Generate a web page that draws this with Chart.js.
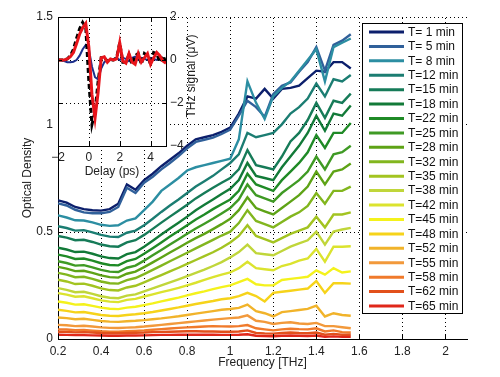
<!DOCTYPE html>
<html>
<head>
<meta charset="utf-8">
<script src="https://cdn.jsdelivr.net/npm/chart.js@4.4.1/dist/chart.umd.min.js"></script>
<style>
  body { margin: 0; background: #fff; }
  #wrap { position: relative; width: 500px; height: 377px; }
  #wrap canvas { position: absolute; left: 0; top: 0; }
</style>
</head>
<body>
<div id="wrap">
  <canvas id="mainChart" width="500" height="377"></canvas>
  <canvas id="insetChart" width="500" height="377"></canvas>
</div>
<script>
// frequency axis (THz)
const freq = [0.20,0.24,0.28,0.32,0.36,0.40,0.44,0.48,0.52,0.56,
              0.60,0.64,0.68,0.72,0.76,0.80,0.84,0.88,0.92,0.96,
              1.00,1.04,1.08,1.12,1.16,1.20,1.24,1.28,1.32,1.36,
              1.40,1.44,1.48,1.52,1.56];

const minutes = [1,5,8,12,15,18,22,25,28,32,35,38,42,45,48,52,55,58,62,65];

// optical density, one array per time
const odT1  = [0.646,0.635,0.615,0.605,0.600,0.598,0.605,0.630,0.720,0.695,0.740,0.770,0.805,0.835,0.865,0.900,0.930,0.940,0.950,0.965,0.985,1.050,1.130,1.120,1.165,1.120,1.165,1.170,1.180,1.215,1.250,1.245,1.290,1.290,1.260];
const odT5  = [0.632,0.622,0.602,0.590,0.586,0.586,0.592,0.615,0.705,0.680,0.728,0.756,0.790,0.820,0.852,0.888,0.918,0.928,0.938,0.955,0.975,1.040,1.110,1.080,1.035,1.140,1.180,1.195,1.245,1.290,1.360,1.250,1.370,1.390,1.420];
const odT8  = [0.576,0.566,0.553,0.552,0.543,0.532,0.527,0.530,0.552,0.562,0.600,0.640,0.690,0.720,0.750,0.785,0.800,0.810,0.820,0.830,0.840,0.930,1.200,1.100,1.025,1.130,1.170,1.200,1.250,1.300,1.350,1.200,1.360,1.380,1.400];
const odT12 = [0.525,0.517,0.505,0.507,0.497,0.485,0.477,0.475,0.495,0.505,0.530,0.560,0.592,0.622,0.650,0.680,0.710,0.735,0.760,0.790,0.820,0.860,0.960,0.940,0.950,0.960,1.000,1.050,1.080,1.120,1.190,1.130,1.210,1.200,1.230];
const odT15 = [0.480,0.472,0.460,0.462,0.452,0.440,0.432,0.430,0.450,0.460,0.485,0.513,0.542,0.570,0.597,0.625,0.655,0.680,0.705,0.728,0.750,0.790,0.880,0.810,0.800,0.790,0.850,0.920,0.960,1.020,1.100,1.030,1.110,1.100,1.143];
const odT18 = [0.425,0.417,0.405,0.407,0.397,0.385,0.377,0.375,0.395,0.405,0.430,0.458,0.487,0.515,0.542,0.570,0.600,0.625,0.650,0.675,0.700,0.740,0.820,0.760,0.750,0.740,0.800,0.850,0.900,0.960,1.040,0.970,1.050,1.040,1.088];
const odT22 = [0.393,0.385,0.373,0.375,0.365,0.353,0.345,0.343,0.363,0.373,0.397,0.423,0.450,0.477,0.503,0.530,0.557,0.580,0.605,0.628,0.650,0.690,0.770,0.720,0.705,0.690,0.740,0.780,0.820,0.870,0.950,0.890,0.960,0.960,1.006];
const odT25 = [0.362,0.354,0.342,0.344,0.334,0.322,0.314,0.312,0.332,0.342,0.365,0.390,0.415,0.440,0.465,0.490,0.515,0.537,0.560,0.585,0.610,0.650,0.720,0.670,0.655,0.640,0.680,0.710,0.740,0.780,0.850,0.790,0.860,0.870,0.900];
const odT28 = [0.336,0.328,0.316,0.318,0.308,0.296,0.288,0.286,0.304,0.314,0.335,0.357,0.380,0.403,0.425,0.448,0.470,0.490,0.512,0.535,0.560,0.600,0.660,0.610,0.595,0.580,0.610,0.640,0.670,0.710,0.780,0.720,0.780,0.790,0.818];
const odT32 = [0.308,0.300,0.288,0.290,0.280,0.268,0.260,0.258,0.274,0.284,0.302,0.322,0.342,0.362,0.382,0.402,0.422,0.442,0.462,0.482,0.500,0.540,0.600,0.550,0.535,0.520,0.545,0.570,0.590,0.620,0.680,0.630,0.690,0.690,0.710];
const odT35 = [0.276,0.268,0.256,0.258,0.248,0.236,0.228,0.226,0.240,0.248,0.264,0.281,0.298,0.315,0.332,0.350,0.368,0.386,0.404,0.425,0.450,0.480,0.530,0.480,0.465,0.450,0.470,0.490,0.505,0.520,0.570,0.520,0.580,0.580,0.590];
const odT38 = [0.237,0.229,0.218,0.220,0.210,0.199,0.192,0.190,0.202,0.208,0.222,0.236,0.250,0.264,0.278,0.293,0.308,0.323,0.340,0.358,0.380,0.405,0.440,0.400,0.395,0.390,0.410,0.430,0.445,0.460,0.500,0.440,0.500,0.510,0.518];
const odT42 = [0.214,0.207,0.197,0.199,0.190,0.180,0.174,0.172,0.182,0.187,0.198,0.208,0.218,0.228,0.238,0.250,0.262,0.275,0.288,0.300,0.310,0.330,0.360,0.330,0.325,0.320,0.340,0.350,0.365,0.375,0.420,0.360,0.430,0.430,0.432];
const odT45 = [0.175,0.169,0.160,0.162,0.154,0.146,0.141,0.139,0.146,0.150,0.158,0.166,0.175,0.184,0.193,0.203,0.213,0.222,0.232,0.242,0.250,0.265,0.280,0.255,0.250,0.250,0.275,0.280,0.285,0.290,0.320,0.300,0.330,0.310,0.315];
const odT48 = [0.136,0.131,0.124,0.126,0.119,0.112,0.108,0.107,0.112,0.115,0.120,0.126,0.133,0.140,0.147,0.155,0.163,0.170,0.177,0.185,0.190,0.200,0.215,0.200,0.175,0.215,0.220,0.225,0.230,0.235,0.270,0.215,0.260,0.260,0.258];
const odT52 = [0.100,0.097,0.092,0.094,0.089,0.084,0.081,0.080,0.083,0.085,0.088,0.092,0.096,0.101,0.106,0.112,0.118,0.124,0.130,0.136,0.140,0.145,0.160,0.130,0.120,0.105,0.125,0.130,0.135,0.140,0.155,0.105,0.120,0.112,0.108];
const odT55 = [0.066,0.064,0.060,0.062,0.058,0.054,0.052,0.051,0.053,0.055,0.058,0.062,0.066,0.070,0.074,0.078,0.082,0.086,0.090,0.094,0.097,0.100,0.110,0.085,0.080,0.070,0.075,0.078,0.072,0.070,0.075,0.060,0.060,0.055,0.050];
const odT58 = [0.045,0.044,0.041,0.042,0.039,0.036,0.034,0.034,0.036,0.038,0.040,0.043,0.046,0.049,0.052,0.054,0.056,0.058,0.060,0.059,0.058,0.060,0.065,0.050,0.045,0.040,0.045,0.048,0.046,0.045,0.050,0.035,0.040,0.032,0.030];
const odT62 = [0.034,0.033,0.031,0.032,0.030,0.028,0.027,0.027,0.028,0.029,0.030,0.032,0.033,0.034,0.035,0.036,0.036,0.035,0.035,0.034,0.034,0.035,0.040,0.028,0.026,0.025,0.028,0.030,0.028,0.027,0.030,0.020,0.024,0.020,0.020];
const odT65 = [0.020,0.019,0.018,0.018,0.017,0.016,0.015,0.015,0.016,0.016,0.017,0.018,0.019,0.019,0.020,0.020,0.020,0.020,0.020,0.019,0.019,0.020,0.022,0.015,0.014,0.013,0.015,0.016,0.015,0.014,0.016,0.010,0.012,0.010,0.010];

const odSeries = [odT1,odT5,odT8,odT12,odT15,odT18,odT22,odT25,odT28,odT32,
                  odT35,odT38,odT42,odT45,odT48,odT52,odT55,odT58,odT62,odT65];

const xTicks = [0.2,0.4,0.6,0.8,1,1.2,1.4,1.6,1.8,2];
const yTicks = [0,0.5,1,1.5];

// inset: THz time traces
const delay = [-2.0,-1.8,-1.6,-1.4,-1.2,-1.0,-0.8,-0.6,-0.4,-0.2,
               0.0,0.2,0.4,0.6,0.8,1.0,1.2,1.4,1.6,1.8,
               2.0,2.2,2.4,2.6,2.8,3.0,3.2,3.4,3.6,3.8,
               4.0,4.2,4.4,4.6,4.8,5.0];
const sigRed   = [0,0,0,0.05,0.15,0.35,0.75,1.2,1.5,1.7, 0.6,-1.6,-2.7,-1.5,0.1,0.15,-0.1,0.05,0,0.05, 0.8,-0.05,-0.15,0.3,-0.1,-0.2,0.3,-0.1,0.1,0.3, -0.2,0.1,0.35,0.2,-0.05,-0.15];
const sigBlack = [0,0,0,0.05,0.2,0.5,1.0,1.45,1.75,1.5, -1.0,-3.0,-2.4,-1.0,0.1,0.1,-0.05,0,0,0.1, 0.8,-0.1,-0.1,0.25,-0.2,0.2,0.3,-0.2,0.3,0.2, -0.2,0.35,0.3,-0.1,0.2,-0.1];
const sigBlue  = [0,0,-0.05,-0.1,-0.1,-0.08,0,0.2,0.5,0.7, 0.5,-0.3,-0.8,-0.9,-0.4,-0.1,0,0,0.05,0.1, 0,0.1,0.05,-0.05,0.1,0.15,0,0.1,0.05,0, 0.1,0.05,0,0.05,0,0];
const insetXTicks = [-2,0,2,4];
const insetYTicks = [-4,-2,0,2];

const lineColors = ["#0c1f6c","#30609a","#2c8ea2","#1b7d72","#167b58","#127a38","#1f8a26","#3f9a24",
                    "#5ea316","#82b61e","#a3c421","#c0d63a","#dbe32e","#f4f21c","#f6d31a","#f1b32a",
                    "#f2993b","#f07a2b","#e2501b","#e0271a"];

Chart.defaults.font.family = "'Liberation Sans', Arial, sans-serif";
Chart.defaults.font.size = 12;
Chart.defaults.color = "#222";

const fmt = v => (v < 0 ? "\u2212" + Math.abs(v) : String(v));

// dotted grid drawn by hand so the dots stay crisp
function dottedGrid(chart) {
  const ctx = chart.ctx;
  const a = chart.chartArea;
  const xs = chart.scales.x, ys = chart.scales.y;
  ctx.save();
  ctx.strokeStyle = "#000";
  ctx.lineWidth = 1;
  ctx.setLineDash([1, 3]);
  ctx.beginPath();
  xs.ticks.forEach(t => {
    const px = Math.round(xs.getPixelForValue(t.value)) + 0.5;
    ctx.moveTo(px, a.bottom);
    ctx.lineTo(px, a.top);
  });
  ys.ticks.forEach(t => {
    const py = Math.round(ys.getPixelForValue(t.value)) + 0.5;
    ctx.moveTo(a.left, py);
    ctx.lineTo(a.right, py);
  });
  ctx.stroke();
  ctx.restore();
}

// small inward tick marks like matlab
function inwardTicks(chart, len, sides) {
  const ctx = chart.ctx;
  const a = chart.chartArea;
  const xs = chart.scales.x, ys = chart.scales.y;
  ctx.save();
  ctx.strokeStyle = "#000";
  ctx.lineWidth = 1;
  ctx.beginPath();
  xs.ticks.forEach(t => {
    const px = Math.round(xs.getPixelForValue(t.value)) + 0.5;
    if (sides.includes("bottom")) { ctx.moveTo(px, a.bottom); ctx.lineTo(px, a.bottom - len); }
    if (sides.includes("top")) { ctx.moveTo(px, a.top); ctx.lineTo(px, a.top + len); }
  });
  ys.ticks.forEach(t => {
    const py = Math.round(ys.getPixelForValue(t.value)) + 0.5;
    if (sides.includes("left")) { ctx.moveTo(a.left, py); ctx.lineTo(a.left + len, py); }
    if (sides.includes("right")) { ctx.moveTo(a.right, py); ctx.lineTo(a.right - len, py); }
  });
  ctx.stroke();
  ctx.restore();
}

const mainPlugin = {
  id: "mainExtras",
  beforeDatasetsDraw(chart) {
    dottedGrid(chart);
  },
  afterDraw(chart) {
    inwardTicks(chart, 5, ["bottom", "left"]);
    // legend box
    const ctx = chart.ctx;
    const bx = 362, by = 23, bw = 100, bh = 290;
    ctx.save();
    ctx.fillStyle = "#fff";
    ctx.fillRect(bx, by, bw, bh);
    ctx.strokeStyle = "#000";
    ctx.lineWidth = 1;
    ctx.strokeRect(bx + 0.5, by + 0.5, bw, bh);
    ctx.font = "12px 'Liberation Sans', Arial, sans-serif";
    ctx.textBaseline = "middle";
    ctx.fillStyle = "#111";
    chart.data.datasets.forEach((ds, i) => {
      const y = 32 + i * 14.42;
      ctx.strokeStyle = ds.borderColor;
      ctx.lineWidth = 3;
      ctx.beginPath();
      ctx.moveTo(369, y);
      ctx.lineTo(404, y);
      ctx.stroke();
      ctx.fillText(ds.label, 408, y + 0.5);
    });
    ctx.restore();
  }
};

new Chart(document.getElementById("mainChart"), {
  type: "line",
  data: {
    datasets: odSeries.map((arr, i) => ({
      label: "T=" + String(minutes[i]).padStart(2, " ") + " min",
      data: freq.map((f, k) => ({ x: f, y: arr[k] })),
      borderColor: lineColors[i],
      borderWidth: 2.4,
      pointRadius: 0,
      tension: 0,
      fill: false,
      order: odSeries.length - 1 - i
    }))
  },
  options: {
    responsive: false,
    animation: false,
    events: [],
    devicePixelRatio: 1,
    layout: { padding: { left: 0, top: 17, right: 33, bottom: 0 } },
    plugins: { legend: { display: false }, tooltip: { enabled: false } },
    scales: {
      x: {
        type: "linear",
        min: 0.2,
        max: 2.1,
        afterBuildTicks: s => { s.ticks = xTicks.map(v => ({ value: v })); },
        afterFit: s => { s.height = 38; },
        ticks: { padding: 5, callback: v => String(v), color: "#222" },
        grid: { drawOnChartArea: false, drawTicks: false },
        border: { display: true, color: "#000", width: 1 },
        title: { display: true, text: "Frequency [THz]", color: "#222", padding: { top: 0, bottom: 7 } }
      },
      y: {
        type: "linear",
        min: 0,
        max: 1.5,
        afterBuildTicks: s => { s.ticks = yTicks.map(v => ({ value: v })); },
        afterFit: s => { s.width = 58; },
        ticks: { padding: 5, callback: v => String(v), color: "#222" },
        grid: { drawOnChartArea: false, drawTicks: false },
        border: { display: true, color: "#000", width: 1 },
        title: { display: true, text: "Optical Density", color: "#222", padding: { top: 20, bottom: 0 } }
      }
    }
  },
  plugins: [mainPlugin]
});

const insetPlugin = {
  id: "insetExtras",
  beforeDraw(chart) {
    const a = chart.chartArea;
    const ctx = chart.ctx;
    ctx.save();
    ctx.fillStyle = "#fff";
    ctx.fillRect(a.left, a.top, a.right - a.left, a.bottom - a.top);
    ctx.restore();
  },
  beforeDatasetsDraw(chart) {
    dottedGrid(chart);
  },
  afterDraw(chart) {
    const a = chart.chartArea;
    const ctx = chart.ctx;
    inwardTicks(chart, 4, ["bottom", "top", "right", "left"]);
    ctx.save();
    ctx.strokeStyle = "#000";
    ctx.lineWidth = 1;
    ctx.strokeRect(Math.round(a.left) + 0.5, Math.round(a.top) + 0.5,
                   Math.round(a.right - a.left), Math.round(a.bottom - a.top));
    // right axis label, reads bottom to top
    ctx.translate(192, 76);
    ctx.rotate(-Math.PI / 2);
    ctx.font = "12px 'Liberation Sans', Arial, sans-serif";
    ctx.fillStyle = "#222";
    ctx.textAlign = "center";
    ctx.textBaseline = "middle";
    ctx.fillText("THz signal (\u03bcV)", 0, 0);
    ctx.restore();
  }
};

new Chart(document.getElementById("insetChart"), {
  type: "line",
  data: {
    datasets: [
      { label: "blue", data: delay.map((t, k) => ({ x: t, y: sigBlue[k] })),
        borderColor: "#1c2f8c", borderWidth: 2, pointRadius: 0, tension: 0, order: 2 },
      { label: "black", data: delay.map((t, k) => ({ x: t, y: sigBlack[k] })),
        borderColor: "#000", borderWidth: 3, borderDash: [5, 3], pointRadius: 0, tension: 0, order: 1 },
      { label: "red", data: delay.map((t, k) => ({ x: t, y: sigRed[k] })),
        borderColor: "#e8141a", borderWidth: 3, pointRadius: 0, tension: 0, order: 0 }
    ]
  },
  options: {
    responsive: false,
    animation: false,
    events: [],
    devicePixelRatio: 1,
    layout: { padding: { left: 58, top: 17, right: 304, bottom: 196 } },
    plugins: { legend: { display: false }, tooltip: { enabled: false } },
    scales: {
      x: {
        type: "linear",
        min: -2,
        max: 5,
        afterBuildTicks: s => { s.ticks = insetXTicks.map(v => ({ value: v })); },
        afterFit: s => { s.height = 35; },
        ticks: { padding: 4, callback: fmt, color: "#222" },
        grid: { drawOnChartArea: false, drawTicks: false },
        border: { display: true, color: "#000", width: 1 },
        title: { display: true, text: "Delay (ps)", color: "#222", padding: { top: 0, bottom: 2.5 } }
      },
      y: {
        type: "linear",
        position: "right",
        min: -4,
        max: 2,
        afterBuildTicks: s => { s.ticks = insetYTicks.map(v => ({ value: v })); },
        afterFit: s => { s.width = 30; },
        ticks: { padding: 4, callback: fmt, color: "#222" },
        grid: { drawOnChartArea: false, drawTicks: false },
        border: { display: true, color: "#000", width: 1 }
      }
    }
  },
  plugins: [insetPlugin]
});
</script>
</body>
</html>
